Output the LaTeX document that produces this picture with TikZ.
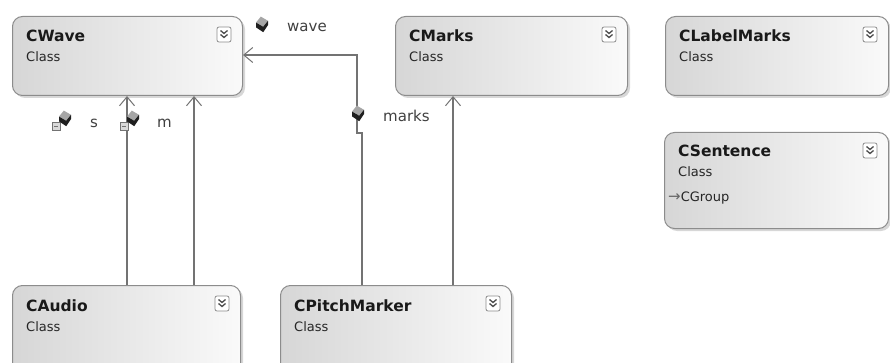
\documentclass[tikz,border=0pt]{standalone}
\usepackage{fontspec}
\setmainfont{DejaVu Sans}
\usetikzlibrary{arrows.meta,shadows}
\begin{document}
\begin{tikzpicture}[x=1pt,y=-1pt,
  classbox/.style={draw=black!45, line width=1pt, rounded corners=10pt,
    left color=black!16, right color=black!2,
    drop shadow={shadow xshift=2.5pt,shadow yshift=-2.5pt,fill=black!35,opacity=0.45},
    anchor=north west, inner sep=0pt},
  titletext/.style={anchor=base west, inner sep=0pt, font=\fontsize{15.5}{18}\selectfont\bfseries, text=black!90},
  subtext/.style={anchor=base west, inner sep=0pt, font=\fontsize{13}{15}\selectfont, text=black!85},
  lbltext/.style={anchor=base west, inner sep=0pt, font=\fontsize{15}{18}\selectfont, text=black!75},
  assoc/.style={draw=black!55, line width=1.1pt, -{Straight Barb[length=9pt,width=15pt,line width=1pt]}},
  expander/.pic={
    \draw[black!45, line width=0.8pt, rounded corners=2pt, fill=white] (-7,-7.5) rectangle (7,7.5);
    \draw[black!70, line width=1.3pt] (-3.5,-4) -- (0,-1) -- (3.5,-4) (-3.5,0) -- (0,3) -- (3.5,0);
  },
  fieldicon/.pic={
    \fill[black!35] (-1,-7) -- (5,-3.5) -- (1,1.5) -- (-5,-2) -- cycle;
    \fill[black!88] (5,-3.5) -- (5,0) -- (1,6) -- (-5,2) -- (-5,-2) -- (1,1.5) -- cycle;
  },
  protfield/.pic={
    \draw[black!55, fill=black!15, line width=0.7pt] (-11,1) rectangle (-3,9);
    \draw[black!55, line width=0.7pt] (-9,5) -- (-5,5);
    \pic[scale=1.2] at (2,-2) {fieldicon};
  }
]
\useasboundingbox (0,0) rectangle (890,363);
\clip (0,0) rectangle (890,363);

% class boxes
\node[classbox, minimum width=230pt, minimum height=79pt] (cwave) at (12,16) {};
\node[classbox, minimum width=232pt, minimum height=79pt] (cmarks) at (395,16) {};
\node[classbox, minimum width=223pt, minimum height=79pt] (clabel) at (665,16) {};
\node[classbox, minimum width=224pt, minimum height=96pt] (csent) at (664,132) {};
\node[classbox, minimum width=228pt, minimum height=100pt] (caudio) at (12,285) {};
\node[classbox, minimum width=231pt, minimum height=100pt] (cpitch) at (280,285) {};

% texts
\node[titletext] (cwaveT) at ([shift={(14,26)}]cwave.north west) {CWave};
\node[subtext] (cwaveS) at ([shift={(14,46)}]cwave.north west) {Class};
\node[titletext] (cmarksT) at ([shift={(14,26)}]cmarks.north west) {CMarks};
\node[subtext] (cmarksS) at ([shift={(14,46)}]cmarks.north west) {Class};
\node[titletext] (clabelT) at ([shift={(14,26)}]clabel.north west) {CLabelMarks};
\node[subtext] (clabelS) at ([shift={(14,46)}]clabel.north west) {Class};
\node[titletext] (csentT) at ([shift={(14,25)}]csent.north west) {CSentence};
\node[subtext] (csentS) at ([shift={(14,45)}]csent.north west) {Class};
\node[subtext] (csentG) at ([shift={(4,69)}]csent.north west) {\textcolor{black!60}{\fontsize{15}{15}\selectfont →}CGroup};
\node[titletext] (caudioT) at ([shift={(14,26)}]caudio.north west) {CAudio};
\node[subtext] (caudioS) at ([shift={(14,46)}]caudio.north west) {Class};
\node[titletext] (cpitchT) at ([shift={(14,26)}]cpitch.north west) {CPitchMarker};
\node[subtext] (cpitchS) at ([shift={(14,46)}]cpitch.north west) {Class};

% expanders
\pic at ([shift={(-19,18.5)}]cwave.north east) {expander};
\pic at ([shift={(-19,18.5)}]cmarks.north east) {expander};
\pic at ([shift={(-19,18.5)}]clabel.north east) {expander};
\pic at ([shift={(-19,18.5)}]csent.north east) {expander};
\pic at ([shift={(-19,18.5)}]caudio.north east) {expander};
\pic at ([shift={(-19,18.5)}]cpitch.north east) {expander};

% connectors
\coordinate (j1) at (362,133);
\coordinate (j2) at (357,133);
\coordinate (j3) at (357,55);
\draw[assoc] (caudio.north -| 127,0) -- (cwave.south -| 127,0);
\draw[assoc] (caudio.north -| 194,0) -- (cwave.south -| 194,0);
\draw[assoc] (cpitch.north -| 453,0) -- (cmarks.south -| 453,0);
\draw[assoc] (cpitch.north -| j1) -- (j1) -- (j2) -- (j3) -- (cwave.east |- j3);

% role icons and labels
\pic[scale=1.2] at (262,25) {fieldicon};
\node[lbltext] (lwave) at (287,32) {wave};
\pic[scale=1.2] at (358,114) {fieldicon};
\node[lbltext] (lmarks) at (383,122) {marks};
\pic at (63,121) {protfield};
\node[lbltext] (ls) at (90,128) {s};
\pic at (131,121) {protfield};
\node[lbltext] (lm) at (157,128) {m};
\end{tikzpicture}
\end{document}
